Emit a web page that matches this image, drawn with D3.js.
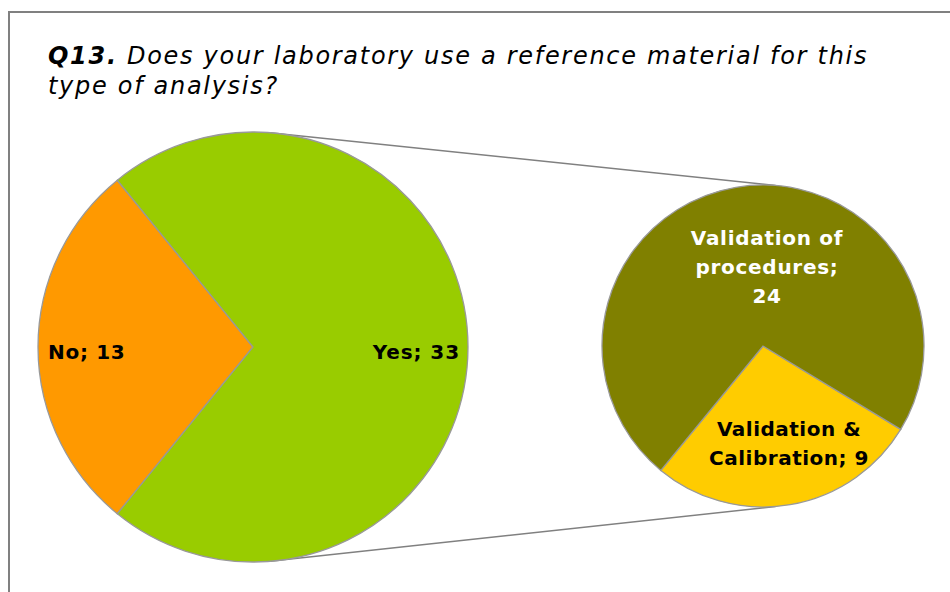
<!DOCTYPE html>
<html>
<head>
<meta charset="utf-8">
<script src="https://cdn.jsdelivr.net/npm/d3@7"></script>
<style>
  body { margin: 0; background: #fff; }
  text { font-family: Verdana, "DejaVu Sans", sans-serif; }
</style>
</head>
<body>
<div id="chart"></div>
<script>
// main pie
const mainLabels = ["No", "Yes"];
const mainValues = [13, 33];
const mainColors = ["#ff9900", "#99cc00"];
// secondary pie, split of "Yes"
const subLabels = ["Validation & Calibration", "Validation of procedures"];
const subValues = [9, 24];
const subColors = ["#ffcc00", "#808000"];

const width = 950, height = 592;
const deg = Math.PI / 180;

const svg = d3.select("#chart").append("svg")
  .attr("width", width)
  .attr("height", height);

// frame
svg.append("rect")
  .attr("x", 9).attr("y", 12)
  .attr("width", 1000).attr("height", 700)
  .attr("fill", "none")
  .attr("stroke", "#808080")
  .attr("stroke-width", 2);

// title
const title = svg.append("text")
  .attr("x", 48).attr("y", 64)
  .attr("font-size", 24)
  .attr("letter-spacing", 1.7)
  .attr("font-style", "italic");
title.append("tspan").attr("font-weight", "bold").text("Q13.");
title.append("tspan").text(" Does your laboratory use a reference material for this");
svg.append("text")
  .attr("x", 48).attr("y", 94)
  .attr("font-size", 24)
  .attr("letter-spacing", 1.7)
  .attr("font-style", "italic")
  .text("type of analysis?");

const main = {cx: 253, cy: 347, r: 215};
const sub = {cx: 763, cy: 346, r: 161};

// connector lines
const t = 4.5 * deg;
[-1, 1].forEach(function(s) {
  svg.append("line")
    .attr("x1", main.cx + main.r * Math.sin(t))
    .attr("y1", main.cy - s * main.r * Math.cos(t))
    .attr("x2", sub.cx + sub.r * Math.sin(t))
    .attr("y2", sub.cy - s * sub.r * Math.cos(t))
    .attr("stroke", "#808080")
    .attr("stroke-width", 1.5);
});

// main pie: "No" slice centred on the left
const noSpan = mainValues[0] / d3.sum(mainValues) * 2 * Math.PI;
const a0 = 1.5 * Math.PI - noSpan / 2;
const mainPie = d3.pie().sort(null).startAngle(a0).endAngle(a0 + 2 * Math.PI);
const mainArc = d3.arc().innerRadius(0).outerRadius(main.r);

svg.append("g")
  .attr("transform", "translate(" + main.cx + "," + main.cy + ")")
  .selectAll("path")
  .data(mainPie(mainValues))
  .enter().append("path")
  .attr("d", mainArc)
  .attr("fill", function(d, i) { return mainColors[i]; })
  .attr("stroke", "#999")
  .attr("stroke-width", 1.3);

// secondary pie
const subSpan = subValues[0] / d3.sum(subValues) * 2 * Math.PI;
const b0 = 170.3 * deg - subSpan / 2;
const subPie = d3.pie().sort(null).startAngle(b0).endAngle(b0 + 2 * Math.PI);
const subArc = d3.arc().innerRadius(0).outerRadius(sub.r);

svg.append("g")
  .attr("transform", "translate(" + sub.cx + "," + sub.cy + ")")
  .selectAll("path")
  .data(subPie(subValues))
  .enter().append("path")
  .attr("d", subArc)
  .attr("fill", function(d, i) { return subColors[i]; })
  .attr("stroke", "#999")
  .attr("stroke-width", 1.3);

// labels
function label(lines, x, y, anchor, fill, ls) {
  const txt = svg.append("text")
    .attr("x", x).attr("y", y)
    .attr("text-anchor", anchor)
    .attr("font-size", 20)
    .attr("letter-spacing", ls)
    .attr("font-weight", "bold")
    .attr("fill", fill);
  lines.forEach(function(l, i) {
    txt.append("tspan").attr("x", x).attr("dy", i ? 29 : 0).text(l);
  });
}
label([mainLabels[0] + "; " + mainValues[0]], 48, 359, "start", "#000", 0.7);
label([mainLabels[1] + "; " + mainValues[1]], 460, 359, "end", "#000", 0.9);
label(["Validation of", "procedures;", String(subValues[1])], 767, 245, "middle", "#fff", 0.7);
label(["Validation &", "Calibration; " + subValues[0]], 789, 436, "middle", "#000", 0.5);
</script>
</body>
</html>
